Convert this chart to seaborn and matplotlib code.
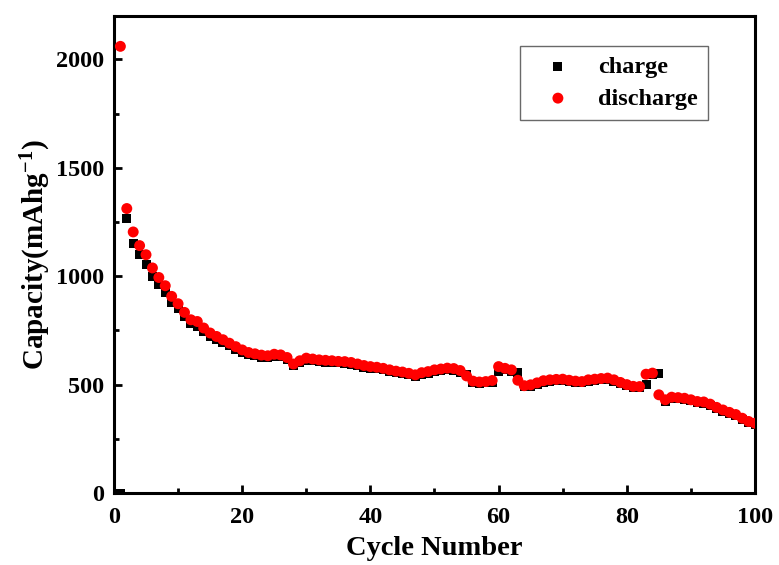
import numpy as np
import pandas as pd
import matplotlib
matplotlib.use("Agg")
import matplotlib.pyplot as plt
import seaborn as sns
from matplotlib.ticker import MultipleLocator

cycles = list(range(1, 101))
charge = [0, 1268, 1153, 1098, 1055, 1000, 960, 925, 880, 850,
          812, 782, 770, 744, 724, 708, 694, 679, 663, 648,
          638, 632, 627, 624, 630, 628, 615, 587, 602, 613,
          610, 606, 604, 602, 600, 598, 594, 588, 581, 576,
          573, 568, 561, 556, 551, 546, 539, 548, 553, 561,
          565, 569, 567, 558, 548, 510, 506, 508, 512, 560,
          568, 562, 555, 490, 493, 502, 512, 516, 518, 519,
          514, 510, 508, 516, 519, 522, 524, 516, 504, 494,
          486, 485, 500, 548, 550, 424, 436, 434, 431, 425,
          416, 414, 404, 389, 377, 366, 356, 339, 324, 316]
discharge = [2060, 1312, 1204, 1141, 1099, 1038, 994, 956, 907, 873,
             833, 799, 791, 761, 738, 722, 707, 691, 675, 660,
             648, 642, 636, 633, 640, 637, 625, 595, 610, 622,
             618, 614, 612, 610, 607, 606, 602, 595, 588, 583,
             580, 575, 568, 562, 558, 552, 545, 555, 560, 568,
             572, 576, 574, 565, 540, 516, 512, 514, 519, 583,
             575, 568, 520, 495, 499, 508, 518, 522, 524, 525,
             520, 516, 514, 522, 525, 528, 530, 522, 510, 500,
             492, 491, 548, 553, 453, 430, 442, 440, 437, 430,
             422, 420, 410, 395, 383, 372, 362, 345, 330, 322]

xticks = [0, 20, 40, 60, 80, 100]
yticks = [0, 500, 1000, 1500, 2000]

sns.set_theme(style="ticks")
plt.rcParams['font.family'] = ['Liberation Serif', 'DejaVu Serif']
plt.rcParams['font.weight'] = 'bold'
plt.rcParams['text.color'] = 'black'
plt.rcParams['axes.labelcolor'] = 'black'
plt.rcParams['xtick.color'] = 'black'
plt.rcParams['ytick.color'] = 'black'
plt.rcParams['mathtext.fontset'] = 'custom'
plt.rcParams['mathtext.rm'] = 'Liberation Serif:bold'
plt.rcParams['mathtext.it'] = 'Liberation Serif:bold'
plt.rcParams['mathtext.bf'] = 'Liberation Serif:bold'
plt.rcParams['mathtext.default'] = 'rm'

fig = plt.figure(figsize=(7.79, 5.65), dpi=100)
ax = fig.add_axes([0.1463, 0.1274, 0.8229, 0.8443])

df_c = pd.DataFrame({"cycle": cycles, "capacity": charge})
df_d = pd.DataFrame({"cycle": cycles, "capacity": discharge})

sns.scatterplot(data=df_c, x="cycle", y="capacity", ax=ax, marker="s", s=42,
                color="black", edgecolor="none", label="charge", zorder=3)
sns.scatterplot(data=df_d, x="cycle", y="capacity", ax=ax, marker="o", s=62,
                color="#ff0000", edgecolor="none", label="discharge", zorder=4)

ax.set_xlim(0, 100)
ax.set_ylim(0, 2200)
ax.set_xticks(xticks)
ax.set_yticks(yticks)
ax.xaxis.set_minor_locator(MultipleLocator(10))
ax.yaxis.set_minor_locator(MultipleLocator(250))
ax.tick_params(which='major', direction='in', length=6, width=2,
               labelsize=17.5, top=False, right=False, pad=7,
               colors='black')
ax.tick_params(axis='x', which='major', pad=10)
ax.tick_params(which='minor', direction='in', length=3.5, width=2,
               top=False, right=False, colors='black')
for lab in ax.get_xticklabels() + ax.get_yticklabels():
    lab.set_fontweight('bold')
for sp in ax.spines.values():
    sp.set_linewidth(2.2)
    sp.set_color('black')

ax.set_xlabel("Cycle Number", fontsize=20.5, fontweight='bold', labelpad=6,
              color='black')
ax.set_ylabel(r"Capacity(mAhg$^{-1}$)", fontsize=21, fontweight='bold',
              labelpad=2, color='black')

leg = ax.legend(loc='upper left', bbox_to_anchor=(0.633, 0.937), frameon=True,
                fancybox=False, edgecolor='#444444', fontsize=17.5,
                handletextpad=0.5, borderpad=0.42, labelspacing=0.38,
                borderaxespad=0, borderpad_=None) if False else None
leg = ax.legend(loc='upper left', bbox_to_anchor=(0.633, 0.937), frameon=True,
                fancybox=False, edgecolor='#444444', fontsize=17.5,
                handletextpad=0.5, borderpad=0.42, labelspacing=0.38,
                borderaxespad=0, handlelength=2.3)
leg.get_frame().set_linewidth(1.0)
for t in leg.get_texts():
    t.set_fontweight('bold')
    t.set_color('black')

fig.savefig("out.png", dpi=100)
